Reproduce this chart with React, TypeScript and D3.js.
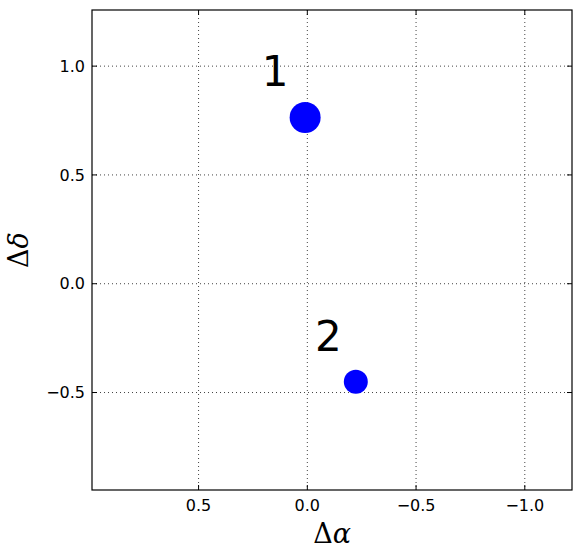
import { useEffect, useRef } from 'react'
import * as d3 from 'd3'

const W = 580
const H = 558
const margin = { top: 10, right: 8, bottom: 68, left: 92 }

const xDomain = [0.99, -1.217]
const yDomain = [-0.948, 1.258]
const xTicks = [0.5, 0.0, -0.5, -1.0]
const yTicks = [-0.5, 0.0, 0.5, 1.0]

const sourceX = [0.01, -0.223]
const sourceY = [0.764, -0.45]
const sourceR = [15.5, 12]
const sourceLabels = ['1', '2']
const labelX = [0.21, -0.035]
const labelY = [0.91, -0.31]

const fmt = (v: number) => v.toFixed(1).replace('-', '\u2212')

const App = () => {
  const svgRef = useRef<SVGSVGElement>(null)

  useEffect(() => {
    const svg = d3.select(svgRef.current)
    svg.selectAll('*').remove()

    const width = W - margin.left - margin.right
    const height = H - margin.top - margin.bottom

    const x = d3.scaleLinear().domain(xDomain).range([0, width])
    const y = d3.scaleLinear().domain(yDomain).range([height, 0])

    const g = svg.append('g').attr('transform', `translate(${margin.left},${margin.top})`)

    // grid
    xTicks.forEach(t => {
      g.append('line')
        .attr('x1', x(t)).attr('x2', x(t))
        .attr('y1', 0).attr('y2', height)
        .attr('stroke', '#444').attr('stroke-width', 1)
        .attr('stroke-dasharray', '1,3')
    })
    yTicks.forEach(t => {
      g.append('line')
        .attr('x1', 0).attr('x2', width)
        .attr('y1', y(t)).attr('y2', y(t))
        .attr('stroke', '#444').attr('stroke-width', 1)
        .attr('stroke-dasharray', '1,3')
    })

    // points
    sourceX.forEach((sx, i) => {
      g.append('circle')
        .attr('cx', x(sx))
        .attr('cy', y(sourceY[i]))
        .attr('r', sourceR[i])
        .attr('fill', '#0000ff')
    })

    sourceLabels.forEach((lab, i) => {
      g.append('text')
        .attr('x', x(labelX[i]))
        .attr('y', y(labelY[i]))
        .style('font-family', 'DejaVu Sans')
        .style('font-size', '42px')
        .style('fill', 'black')
        .text(lab)
    })

    // ticks inside, all four sides
    const tickLen = 5
    xTicks.forEach(t => {
      g.append('line').attr('x1', x(t)).attr('x2', x(t)).attr('y1', height).attr('y2', height - tickLen).attr('stroke', 'black')
      g.append('line').attr('x1', x(t)).attr('x2', x(t)).attr('y1', 0).attr('y2', tickLen).attr('stroke', 'black')
      g.append('text')
        .attr('x', x(t))
        .attr('y', height + 21)
        .attr('text-anchor', 'middle')
        .style('font-family', 'DejaVu Sans')
        .style('font-size', '16px')
        .text(fmt(t))
    })
    yTicks.forEach(t => {
      g.append('line').attr('x1', 0).attr('x2', tickLen).attr('y1', y(t)).attr('y2', y(t)).attr('stroke', 'black')
      g.append('line').attr('x1', width).attr('x2', width - tickLen).attr('y1', y(t)).attr('y2', y(t)).attr('stroke', 'black')
      g.append('text')
        .attr('x', -7)
        .attr('y', y(t))
        .attr('dy', '0.36em')
        .attr('text-anchor', 'end')
        .style('font-family', 'DejaVu Sans')
        .style('font-size', '16px')
        .text(fmt(t))
    })

    // frame
    g.append('rect')
      .attr('x', 0).attr('y', 0)
      .attr('width', width).attr('height', height)
      .attr('fill', 'none')
      .attr('stroke', 'black')
      .attr('stroke-width', 1.2)

    // axis labels
    const xl = g.append('text')
      .attr('x', width / 2)
      .attr('y', height + 53)
      .attr('text-anchor', 'middle')
      .style('font-family', 'DejaVu Serif')
      .style('font-size', '27px')
    xl.append('tspan').text('\u0394')
    xl.append('tspan').style('font-style', 'italic').text('\u03b1')

    const yl = g.append('text')
      .attr('transform', `translate(${-margin.left + 28},${height / 2}) rotate(-90)`)
      .attr('text-anchor', 'middle')
      .style('font-family', 'DejaVu Serif')
      .style('font-size', '27px')
    yl.append('tspan').text('\u0394')
    yl.append('tspan').style('font-style', 'italic').text('\u03b4')
  }, [])

  return (
    <svg ref={svgRef} width={W} height={H} style={{ position: 'absolute', left: 0, top: 0 }}></svg>
  )
}

export default App
